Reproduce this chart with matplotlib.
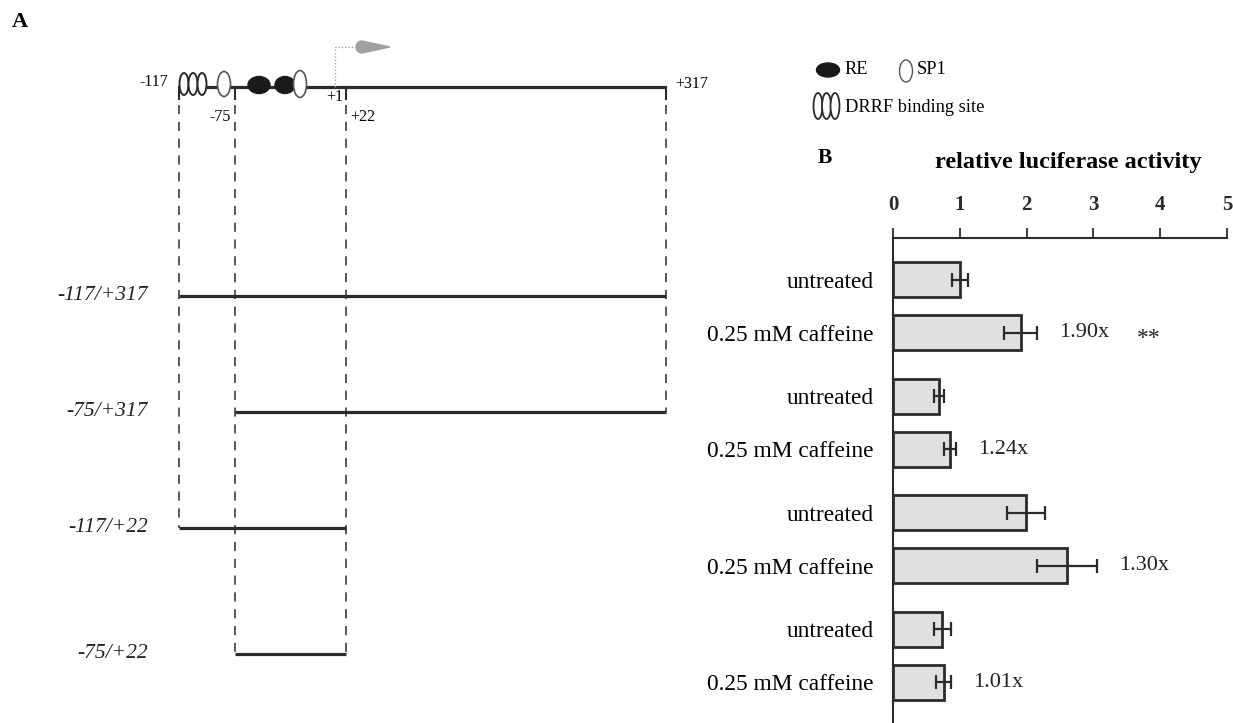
import matplotlib.pyplot as plt
import numpy as np
from matplotlib.patches import Ellipse, Polygon

plt.rcParams['font.family'] = ['Liberation Serif', 'DejaVu Serif']

# panel A: promoter deletion constructs (genomic coordinates)
construct_names = ['-117/+317', '-75/+317', '-117/+22', '-75/+22']
construct_start = [-117, -75, -117, -75]
construct_end = [317, 317, 22, 22]
site_labels = ['-117', '-75', '+1', '+22', '+317']
site_pos = [-117, -75, 1, 22, 317]

# panel B: relative luciferase activity
conditions = ['untreated', '0.25 mM caffeine'] * 4
activity = [1.01, 1.91, 0.69, 0.85, 1.99, 2.60, 0.74, 0.76]
errors = [0.12, 0.25, 0.08, 0.09, 0.29, 0.45, 0.13, 0.11]
fold_labels = ['1.90x', '1.24x', '1.30x', '1.01x']
signif = ['**', '', '', '']

# schematic scale (not linear in bp)
px_of = lambda p: np.interp(p, site_pos, [179, 235, 335, 346, 666])
row_y = [296, 412, 528, 654]
top_y = 87
dark = '#2b2b2b'

fig = plt.figure(figsize=(12.33, 7.23), dpi=100)
ax = fig.add_axes([0, 0, 1, 1])
ax.set_xlim(0, 1233)
ax.set_ylim(723, 0)
ax.axis('off')

# promoter line
ax.plot([px_of(-117), px_of(317)], [top_y, top_y], color=dark, lw=2.3, solid_capstyle='butt', zorder=2)

# DRRF sites, SP1, RE
for cx in [184, 193, 202]:
    ax.add_patch(Ellipse((cx, 84), 9, 22, facecolor='white', edgecolor=dark, lw=1.4, zorder=3))
ax.add_patch(Ellipse((224, 84), 13, 25, facecolor='white', edgecolor='#555555', lw=1.2, zorder=3))
ax.add_patch(Ellipse((259, 85), 22, 17, facecolor='#1a1a1a', edgecolor='#1a1a1a', zorder=3))
ax.add_patch(Ellipse((285, 85), 20, 17, facecolor='#1a1a1a', edgecolor='#1a1a1a', zorder=3))
ax.add_patch(Ellipse((300, 84), 13, 27, facecolor='white', edgecolor='#555555', lw=1.2, zorder=4))

# transcription start arrow
x1 = px_of(1)
ax.plot([x1, x1, x1 + 20], [top_y, 47, 47], color='#9a9a9a', lw=0.9, ls=':', zorder=2)
ang = np.linspace(np.pi / 2, 3 * np.pi / 2, 20)
tear = [(390, 47)] + [(362 + 6 * np.cos(a), 47 - 6 * np.sin(a)) for a in ang]
ax.add_patch(Polygon(tear, closed=True, facecolor='#a0a0a0', edgecolor='#a0a0a0', zorder=3))

# site ticks and dashed guides
guide_end = {-117: row_y[2], -75: row_y[3], 22: row_y[3], 317: row_y[1]}
for p, yb in guide_end.items():
    x = px_of(p)
    ax.plot([x, x], [top_y, 99], color=dark, lw=1.5, zorder=2)
    ax.plot([x, x], [105, yb], color=dark, lw=1.1, ls=(0, (6, 5)), zorder=1)

ax.text(168, 82, site_labels[0], ha='right', va='center', fontsize=11.5)
ax.text(231, 117, site_labels[1], ha='right', va='center', fontsize=11.5)
ax.text(343, 97, site_labels[2], ha='right', va='center', fontsize=11.5)
ax.text(350, 117, site_labels[3], ha='left', va='center', fontsize=11.5)
ax.text(675, 84, site_labels[4], ha='left', va='center', fontsize=11.5)

# constructs
for name, s, e, y in zip(construct_names, construct_start, construct_end, row_y):
    ax.plot([px_of(s), px_of(e)], [y, y], color=dark, lw=2.3, solid_capstyle='butt', zorder=2)
    ax.text(148, y, name, ha='right', va='center', fontsize=15.5, style='italic', color='#222222')

# legend
ax.add_patch(Ellipse((828, 70), 23, 14, facecolor='#1a1a1a', edgecolor='#1a1a1a'))
ax.text(844, 70, 'RE', ha='left', va='center', fontsize=13.2)
ax.add_patch(Ellipse((906, 71), 13, 22, facecolor='white', edgecolor='#555555', lw=1.0))
ax.text(917, 70, 'SP1', ha='left', va='center', fontsize=13.2)
for cx in [818, 826.5, 835]:
    ax.add_patch(Ellipse((cx, 106), 9, 26, facecolor='white', edgecolor=dark, lw=1.3))
ax.text(845, 108, 'DRRF binding site', ha='left', va='center', fontsize=13.2)

ax.text(12, 22, 'A', ha='left', va='center', fontsize=16, fontweight='bold')
ax.text(818, 158, 'B', ha='left', va='center', fontsize=15.5, fontweight='bold')

# bar chart
bx = fig.add_axes([893 / 1233, 0, 334 / 1233, 485 / 723])
bx.patch.set_alpha(0)
y_pos = [g * 2.2 + k for g in range(4) for k in range(2)]
bx.barh(y_pos, activity, height=0.66, xerr=errors, color='#e0e0e0', edgecolor=dark, linewidth=2,
        error_kw=dict(ecolor=dark, elinewidth=1.6, capsize=5, capthick=1.6))
bx.set_xlim(0, 5)
bx.set_ylim(8.37, -0.79)
bx.xaxis.tick_top()
bx.xaxis.set_label_position('top')
bx.set_xticks(range(6))
bx.set_xticklabels([str(i) for i in range(6)], fontweight='bold')
bx.tick_params(axis='x', direction='out', length=7, width=1.3, pad=9.5, labelsize=15, colors=dark)
bx.set_yticks(y_pos)
bx.set_yticklabels(conditions)
bx.tick_params(axis='y', length=0, pad=14, labelsize=16.8)
for side in ['right', 'bottom']:
    bx.spines[side].set_visible(False)
for side in ['top', 'left']:
    bx.spines[side].set_linewidth(1.5)
    bx.spines[side].set_color(dark)
bx.set_xlabel('relative luciferase activity', fontsize=17.5, fontweight='bold', labelpad=19.5)
bx.xaxis.label.set_x(0.525)

for i, (lab, sg) in enumerate(zip(fold_labels, signif)):
    j = 2 * i + 1
    bx.annotate(lab, xy=(activity[j] + errors[j], y_pos[j]), xytext=(16, 0), textcoords='offset points',
                ha='left', va='center', fontsize=16, color='#222222')
    if sg:
        bx.annotate(sg, xy=(activity[j] + errors[j], y_pos[j]), xytext=(72, -4), textcoords='offset points',
                    ha='left', va='center', fontsize=17, color='#222222')

plt.savefig('out.png', dpi=100)
